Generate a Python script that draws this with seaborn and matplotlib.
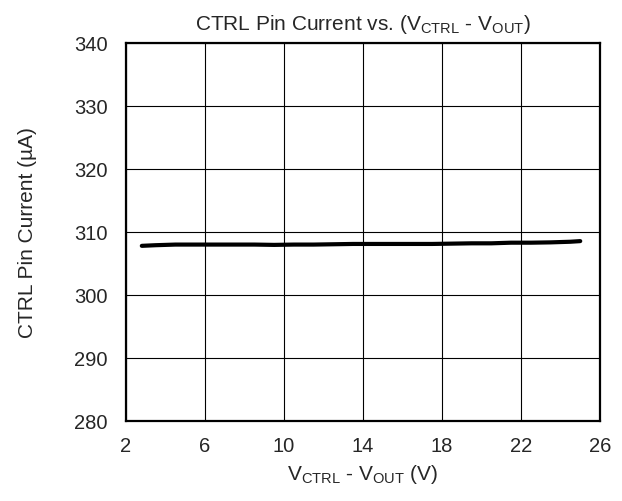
import numpy as np
import pandas as pd
import matplotlib
matplotlib.use('Agg')
import matplotlib.pyplot as plt
import seaborn as sns

# Data
v_diff = [2.8, 3.5, 4.5, 5.5, 6.5, 7.5, 8.5, 9.5, 10.5, 11.5, 12.5, 13.5,
          14.5, 15.5, 16.5, 17.5, 18.5, 19.5, 20.5, 21.5, 22.5, 23.5, 24.5, 25.0]
ctrl_current = [307.8, 307.9, 308.0, 308.0, 308.0, 308.0, 308.0, 307.95, 308.0, 308.0, 308.05, 308.1,
                308.1, 308.1, 308.1, 308.1, 308.15, 308.2, 308.2, 308.3, 308.3, 308.35, 308.45, 308.55]

x_ticks = [2, 6, 10, 14, 18, 22, 26]
y_ticks = [280, 290, 300, 310, 320, 330, 340]

sns.set_style('white')
plt.rcParams['font.family'] = ['Liberation Sans', 'DejaVu Sans']
plt.rcParams['mathtext.fontset'] = 'custom'
plt.rcParams['mathtext.rm'] = 'Liberation Sans'

df = pd.DataFrame({'v': v_diff, 'i': ctrl_current})

fig = plt.figure(figsize=(6.22, 5.02), dpi=100)
ax = fig.add_axes([0.2026, 0.1594, 0.762, 0.753])

sns.lineplot(data=df, x='v', y='i', color='black', linewidth=3, ax=ax)

ax.set_xlim(2, 26)
ax.set_ylim(280, 340)
ax.set_xticks(x_ticks)
ax.set_yticks(y_ticks)
ax.grid(True, color='black', linewidth=0.8)
for s in ax.spines.values():
    s.set_linewidth(1.6)
    s.set_color('black')
ax.tick_params(axis='y', labelsize=14.5, length=0, pad=13)
ax.tick_params(axis='x', labelsize=14.5, length=0, pad=11)

ax.set_xlabel(r'V$_\mathregular{CTRL}$ - V$_\mathregular{OUT}$ (V)', fontsize=15, labelpad=5)
ax.set_ylabel('CTRL Pin Current (µA)', fontsize=15, labelpad=27)
ax.set_title(r'CTRL Pin Current vs. (V$_\mathregular{CTRL}$ - V$_\mathregular{OUT}$)', fontsize=15, pad=10)

fig.savefig('out.png', dpi=100)
